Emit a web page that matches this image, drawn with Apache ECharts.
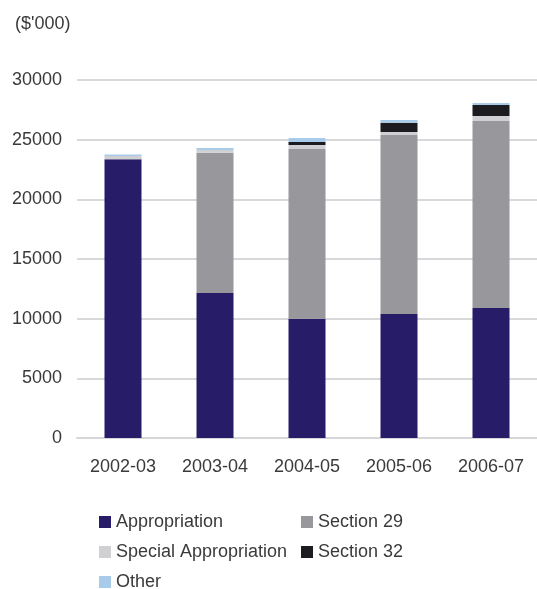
<!DOCTYPE html>
<html>
<head>
<meta charset="utf-8">
<script src="https://cdn.jsdelivr.net/npm/echarts@6/dist/echarts.min.js"></script>
<style>
  html, body { margin: 0; padding: 0; background: #fff; }
  #chart { width: 537px; height: 589px; }
</style>
</head>
<body>
<div id="chart"></div>
<script>
// years along the x axis
var years = ['2002-03', '2003-04', '2004-05', '2005-06', '2006-07'];

// $'000
var appropriation = [23350, 12150, 10000, 10400, 10900];
var section29 = [0, 11750, 14220, 14990, 15660];
var specialAppropriation = [280, 230, 330, 250, 420];
var section32 = [0, 0, 250, 780, 920];
var other = [120, 170, 340, 230, 170];

var yTicks = [0, 5000, 10000, 15000, 20000, 25000, 30000];

var chartDom = document.getElementById('chart');
var myChart = echarts.init(chartDom);

var font = 'Liberation Sans, Arial, sans-serif';
var textColor = '#3a3a3a';

function barSeries(name, data, color) {
  return {
    name: name,
    type: 'bar',
    stack: 'total',
    barWidth: 37,
    itemStyle: { color: color },
    data: data
  };
}

var legendText = { fontSize: 18, lineHeight: 18, color: textColor, fontFamily: font };

var option = {
  animation: false,
  textStyle: { fontFamily: font },
  title: {
    text: "($'000)",
    left: 10,
    top: 10,
    textStyle: { fontSize: 18, fontWeight: 'normal', color: textColor, fontFamily: font }
  },
  grid: {
    left: 77,
    right: -3,
    top: 80,
    bottom: 151
  },
  legend: [
    {
      orient: 'vertical',
      left: 94,
      top: 508,
      height: 120,
      itemWidth: 12,
      itemHeight: 12,
      itemGap: 12,
      icon: 'rect',
      textStyle: legendText,
      data: ['Appropriation', 'Special Appropriation', 'Other']
    },
    {
      orient: 'vertical',
      left: 296,
      top: 508,
      height: 120,
      itemWidth: 12,
      itemHeight: 12,
      itemGap: 12,
      icon: 'rect',
      textStyle: legendText,
      data: ['Section 29', 'Section 32']
    }
  ],
  xAxis: {
    type: 'category',
    data: years,
    axisTick: { show: false },
    axisLine: { lineStyle: { color: '#d6d6d8', width: 2 } },
    axisLabel: { fontSize: 18, color: textColor, margin: 20, fontFamily: font }
  },
  yAxis: {
    type: 'value',
    min: yTicks[0],
    max: yTicks[yTicks.length - 1],
    interval: 5000,
    axisLine: { show: false },
    axisTick: { show: false },
    splitLine: { lineStyle: { color: '#d9d9db', width: 2 } },
    axisLabel: {
      fontSize: 18,
      color: textColor,
      margin: 15,
      fontFamily: font,
      formatter: function (v) { return String(v); }
    }
  },
  series: [
    barSeries('Appropriation', appropriation, '#271c68'),
    barSeries('Section 29', section29, '#98979c'),
    barSeries('Special Appropriation', specialAppropriation, '#d0d0d3'),
    barSeries('Section 32', section32, '#1c1c20'),
    barSeries('Other', other, '#a9cbea')
  ]
};

option && myChart.setOption(option);
</script>
</body>
</html>
